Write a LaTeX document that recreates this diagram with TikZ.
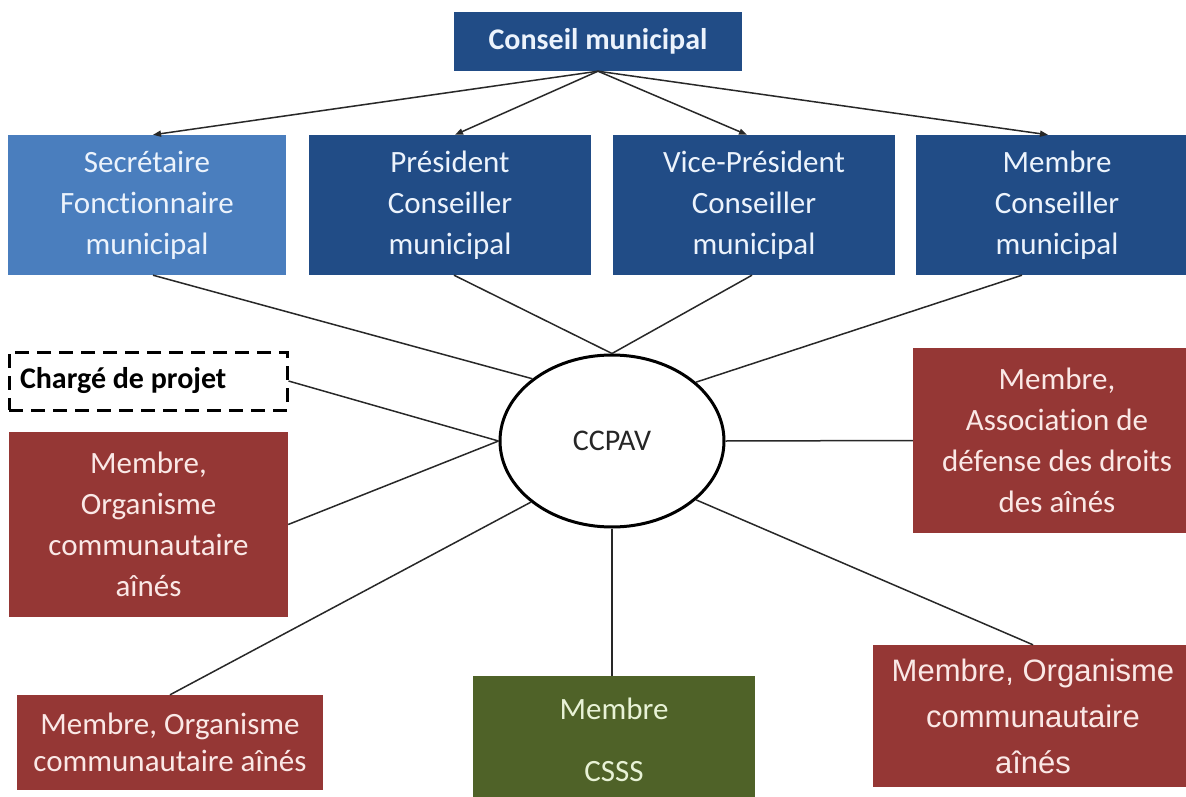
\documentclass[tikz,border=0pt]{standalone}
\usepackage{fontspec}
\setmainfont{Carlito}[RawFeature={-liga;-dlig}]
\newfontfamily\arialf{Liberation Sans}
\usetikzlibrary{shapes.geometric,arrows.meta}
\definecolor{dblue}{RGB}{33,76,134}
\definecolor{lblue}{RGB}{74,126,190}
\definecolor{dred}{RGB}{149,55,53}
\definecolor{dgreen}{RGB}{79,98,40}
\definecolor{btext}{RGB}{236,243,252}
\definecolor{rtext}{RGB}{250,232,230}
\definecolor{gtext}{RGB}{232,242,214}
\definecolor{lnk}{RGB}{40,40,40}
\tikzset{
  basebox/.style={rectangle, inner sep=0pt, align=center, font=\fontsize{31}{41}\selectfont},
  bluebox/.style={basebox, fill=dblue, text=btext},
  lbluebox/.style={basebox, fill=lblue, text=btext},
  redbox/.style={basebox, fill=dred, text=rtext},
  greenbox/.style={basebox, fill=dgreen, text=gtext},
  link/.style={draw=lnk, line width=1.5pt},
  arr/.style={link, -{Triangle[length=8pt,width=6pt]}},
}
\begin{document}
\begin{tikzpicture}[x=1pt,y=-1pt]
\useasboundingbox (0,0) rectangle (1186,797);
\fill[white] (0,0) rectangle (1186,797);
\clip (0,0) rectangle (1186,797);

\node[bluebox, minimum width=288pt, minimum height=59pt, font=\fontsize{30}{36}\selectfont\bfseries] (conseil) at (598,41.5) {Conseil municipal};

\node[lbluebox, minimum width=278pt, minimum height=140pt] (sec) at (147,205) {Secrétaire\\Fonctionnaire\\municipal};
\node[bluebox, minimum width=282pt, minimum height=140pt] (pres) at (450,205) {Président\\Conseiller\\municipal};
\node[bluebox, minimum width=282pt, minimum height=140pt] (vice) at (754,205) {Vice-Président\\Conseiller\\municipal};
\node[bluebox, minimum width=282pt, minimum height=140pt] (memb) at (1057,205) {Membre\\Conseiller\\municipal};

\node[ellipse, draw=black, line width=3pt, fill=white, minimum width=224pt, minimum height=172pt, inner sep=0pt, font=\fontsize{30}{36}\selectfont, text=black!85] (ccpav) at (612,441) {CCPAV};

\node[rectangle, draw=black, dash pattern=on 14pt off 8pt, line width=3pt, fill=white, inner xsep=11pt, inner ysep=0pt, minimum height=58pt, font=\fontsize{30}{36}\selectfont\bfseries] (charge) at (148,381) {\makebox[256pt][l]{Chargé de projet}};

\node[redbox, minimum width=279pt, minimum height=185pt] (lred) at (148.5,524.5) {Membre,\\Organisme\\communautaire\\aînés};
\node[redbox, minimum width=288pt, minimum height=185pt] (assoc) at (1057,440.5) {Membre,\\Association de\\défense des droits\\des aînés};
\node[redbox, minimum width=306pt, minimum height=95pt, font=\fontsize{31}{37}\selectfont] (blred) at (170,742.5) {Membre, Organisme\\communautaire aînés};
\node[greenbox, minimum width=282pt, minimum height=128pt, font=\fontsize{31}{62}\selectfont] (csss) at (614,740) {Membre\\CSSS};
\node[redbox, minimum width=320pt, minimum height=142pt, font=\arialf\fontsize{31}{46}\selectfont] (brred) at (1033,716) {Membre, Organisme\\communautaire\\aînés};

\draw[arr] (conseil.south) -- ([xshift=6pt]sec.north);
\draw[arr] (conseil.south) -- ([xshift=5pt]pres.north);
\draw[arr] (conseil.south) -- ([xshift=-7pt]vice.north);
\draw[arr] (conseil.south) -- ([xshift=-9pt]memb.north);

\draw[link] ([xshift=6pt]sec.south) -- (ccpav.142.5);
\draw[link] ([xshift=4pt]pres.south) -- (ccpav.north);
\draw[link] ([xshift=-2pt]vice.south) -- (ccpav.north);
\draw[link] ([xshift=-35pt]memb.south) -- (ccpav.35.7);
\draw[link] (charge.east) -- (ccpav.west);
\draw[link] (lred.east) -- (ccpav.west);
\draw[link] (assoc.west) -- (ccpav.east);
\draw[link] (blred.north) -- (ccpav.217);
\draw[link] (ccpav.south) -- (ccpav.south |- csss.north);
\draw[link] (brred.north) -- (ccpav.-35.3);
\end{tikzpicture}
\end{document}
